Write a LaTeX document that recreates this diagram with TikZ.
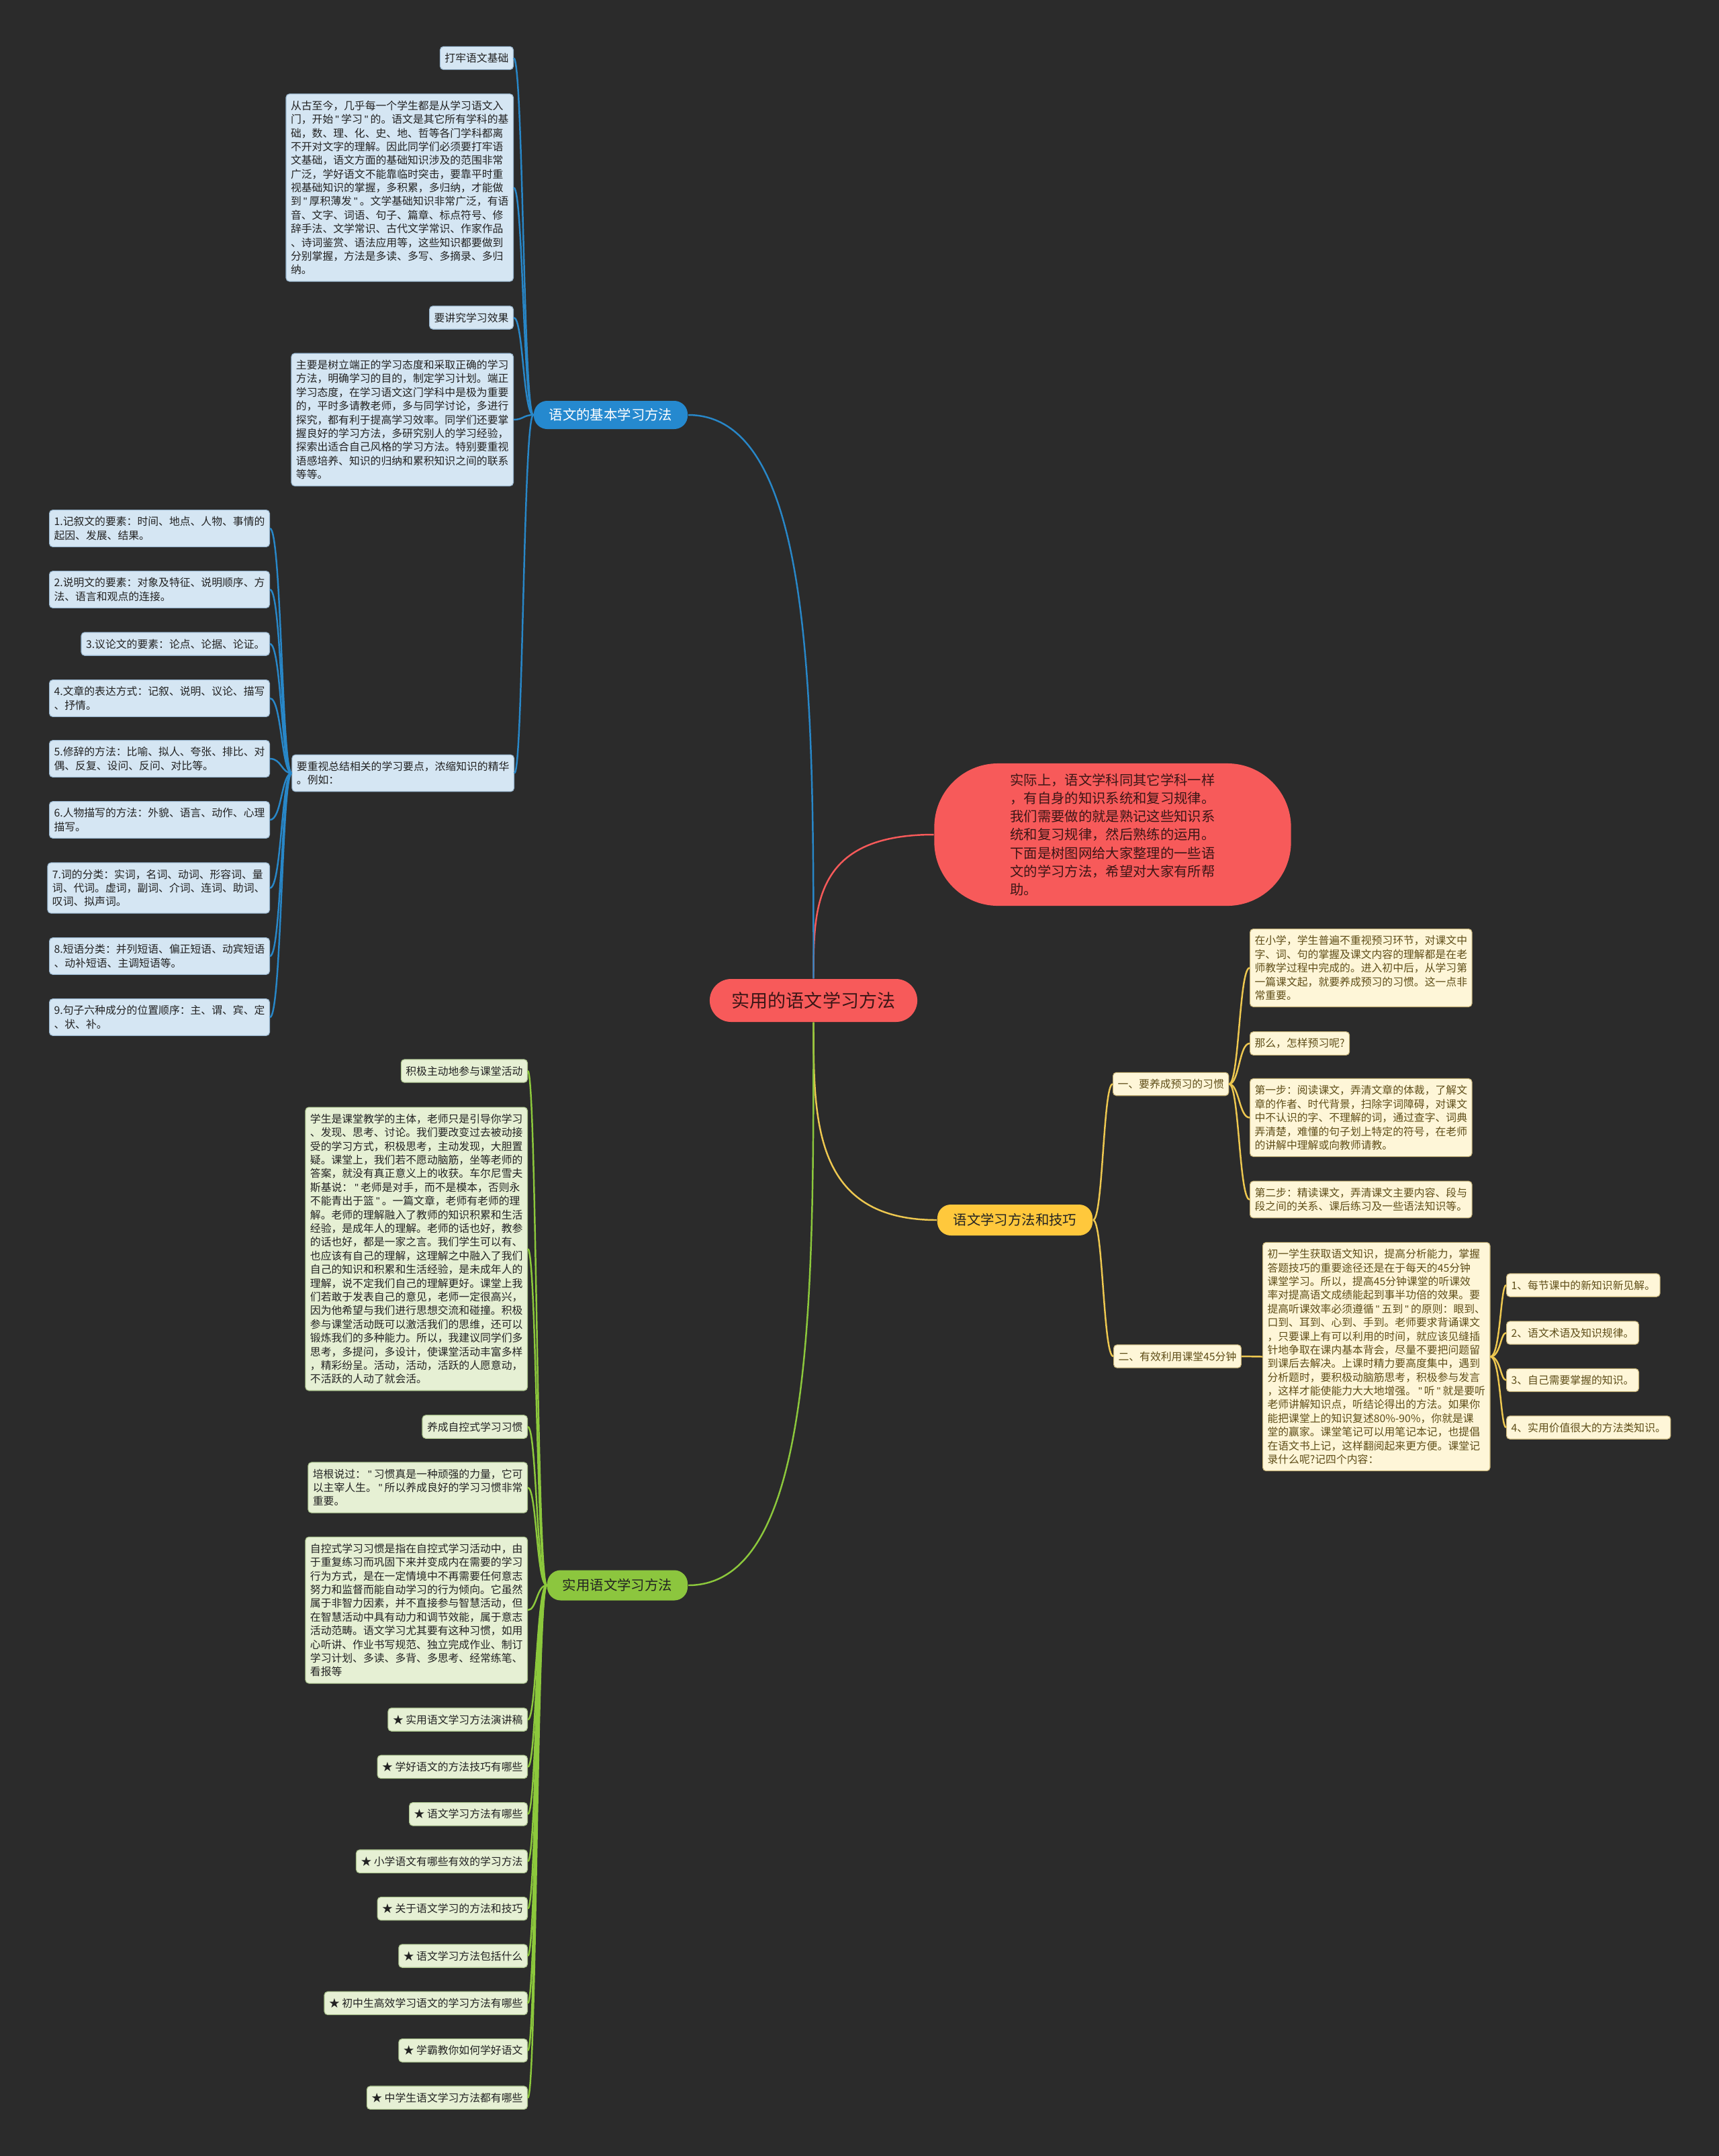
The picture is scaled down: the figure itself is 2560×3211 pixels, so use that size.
\documentclass[tikz,border=0pt]{standalone}
\usepackage{fontspec}
\setmainfont{Noto Sans CJK SC}
\newfontfamily\latin{Liberation Sans}
\usetikzlibrary{calc}

\definecolor{bg}{RGB}{43,43,43}
\definecolor{rootred}{RGB}{247,90,90}
\definecolor{redtxt}{RGB}{60,22,22}
\definecolor{bluepill}{RGB}{37,137,207}
\definecolor{blueln}{RGB}{40,135,200}
\definecolor{bluefill}{RGB}{213,230,243}
\definecolor{bluebd}{RGB}{150,180,205}
\definecolor{yelpill}{RGB}{255,200,60}
\definecolor{yelln}{RGB}{238,200,80}
\definecolor{yelfill}{RGB}{254,246,216}
\definecolor{yelbd}{RGB}{200,180,120}
\definecolor{yeltxt}{RGB}{95,78,25}
\definecolor{grnpill}{RGB}{140,198,62}
\definecolor{grnln}{RGB}{140,200,60}
\definecolor{grnfill}{RGB}{230,240,212}
\definecolor{grnbd}{RGB}{170,195,140}
\definecolor{txtdark}{RGB}{34,34,34}

\newcommand{\dq}{\makebox[0.75em][c]{\latin"}}

\tikzset{
  box/.style={rounded corners=0.05cm, align=left, inner xsep=2pt, inner ysep=2.8pt,
    line width=0.3pt, font=\fontsize{4.5pt}{5.8pt}\selectfont},
  bluebox/.style={box, draw=bluebd, fill=bluefill, text=txtdark},
  yelbox/.style={box, draw=yelbd, fill=yelfill, text=yeltxt},
  grnbox/.style={box, draw=grnbd, fill=grnfill, text=txtdark},
  pill/.style={rounded corners=0.2cm, inner sep=0pt, font=\fontsize{5.8pt}{7pt}\selectfont},
  bline/.style={draw=blueln, line width=0.7pt},
  yline/.style={draw=yelln, line width=0.7pt},
  gline/.style={draw=grnln, line width=0.7pt},
  rline/.style={draw=rootred, line width=0.7pt}
}

% child on the left of its parent
\newcommand{\linkleft}[3]{%
  \path ([xshift=-0.15cm]#1.west) coordinate (k);
  \draw[#3] (#1.west) .. controls (k) and (k |- #2.east) .. (#2.east);}
% child on the right of its parent
\newcommand{\linkright}[3]{%
  \path ([xshift=0.15cm]#1.east) coordinate (k);
  \draw[#3] (#1.east) .. controls (k) and (k |- #2.west) .. (#2.west);}
% main branches out of the root
\newcommand{\rootlink}[3]{%
  \path (#1 |- #2) coordinate (m);
  \draw[#3] (#1) .. controls ($(#1)!0.5!(m)$) and (m) .. (#2);}

\begin{document}
\begin{tikzpicture}[x=0.01cm, y=-0.01cm]
  \fill[bg] (0,0) rectangle (2560,3211);
  \useasboundingbox (0,0) rectangle (2560,3211);

  % centre
  \node[pill, fill=rootred, text=redtxt, rounded corners=0.32cm, minimum width=3.09cm,
    minimum height=0.64cm, font=\fontsize{7.7pt}{9pt}\selectfont] (root) at (1211.5,1490) {实用的语文学习方法};
  \node[fill=rootred, text=redtxt, rounded corners=0.95cm, minimum width=5.31cm, minimum height=2.12cm,
    align=left, font=\fontsize{5.78pt}{7.74pt}\selectfont] (intro) at (1657,1243) {实际上，语文学科同其它学科一样\\，有自身的知识系统和复习规律。\\我们需要做的就是熟记这些知识系\\统和复习规律，然后熟练的运用。\\下面是树图网给大家整理的一些语\\文的学习方法，希望对大家有所帮\\助。};

  \node[pill, fill=bluepill, text=white, minimum width=2.29cm, minimum height=0.42cm] (jiben) at (909.5,618) {语文的基本学习方法};
  \node[pill, fill=yelpill, text=txtdark, minimum width=2.31cm, minimum height=0.46cm] (jiqiao) at (1511.5,1817) {语文学习方法和技巧};
  \node[pill, fill=grnpill, text=txtdark, minimum width=2.09cm, minimum height=0.45cm] (shiyong) at (919.5,2361) {实用语文学习方法};

  \rootlink{root.north}{intro.west}{rline}
  \rootlink{root.north}{jiben.east}{bline}
  \rootlink{root.south}{jiqiao.west}{yline}
  \rootlink{root.south}{shiyong.east}{gline}

  % blue branch
  \node[bluebox, anchor=east] (b1) at (765,86.5) {打牢语文基础};
  \node[bluebox, anchor=east] (b2) at (765,279.5) {从古至今，几乎每一个学生都是从学习语文入\\门，开始\dq{}学习\dq{}的。语文是其它所有学科的基\\础，数、理、化、史、地、哲等各门学科都离\\不开对文字的理解。因此同学们必须要打牢语\\文基础，语文方面的基础知识涉及的范围非常\\广泛，学好语文不能靠临时突击，要靠平时重\\视基础知识的掌握，多积累，多归纳，才能做\\到\dq{}厚积薄发\dq{}。文学基础知识非常广泛，有语\\音、文字、词语、句子、篇章、标点符号、修\\辞手法、文学常识、古代文学常识、作家作品\\、诗词鉴赏、语法应用等，这些知识都要做到\\分别掌握，方法是多读、多写、多摘录、多归\\纳。};
  \node[bluebox, anchor=east] (b3) at (765,473) {要讲究学习效果};
  \node[bluebox, anchor=east] (b4) at (765,625) {主要是树立端正的学习态度和采取正确的学习\\方法，明确学习的目的，制定学习计划。端正\\学习态度，在学习语文这门学科中是极为重要\\的，平时多请教老师，多与同学讨论，多进行\\探究，都有利于提高学习效率。同学们还要掌\\握良好的学习方法，多研究别人的学习经验，\\探索出适合自己风格的学习方法。特别要重视\\语感培养、知识的归纳和累积知识之间的联系\\等等。};
  \node[bluebox, anchor=east] (b5) at (766,1151.5) {要重视总结相关的学习要点，浓缩知识的精华\\。例如：};
  \foreach \i in {1,...,5}
    {\linkleft{jiben}{b\i}{bline}}

  \foreach \y/\t [count=\i] in {
      787/{1.记叙文的要素：时间、地点、人物、事情的\\起因、发展、结果。},
      878/{2.说明文的要素：对象及特征、说明顺序、方\\法、语言和观点的连接。},
      959/{3.议论文的要素：论点、论据、论证。},
      1040/{4.文章的表达方式：记叙、说明、议论、描写\\、抒情。},
      1130/{5.修辞的方法：比喻、拟人、夸张、排比、对\\偶、反复、设问、反问、对比等。},
      1221/{6.人物描写的方法：外貌、语言、动作、心理\\描写。},
      1322.5/{7.词的分类：实词，名词、动词、形容词、量\\词、代词。虚词，副词、介词、连词、助词、\\叹词、拟声词。},
      1424/{8.短语分类：并列短语、偏正短语、动宾短语\\、动补短语、主调短语等。},
      1515/{9.句子六种成分的位置顺序：主、谓、宾、定\\、状、补。}}
    \node[bluebox, anchor=east] (l\i) at (402,\y) {\t};
  \foreach \i in {1,...,9}
    {\linkleft{b5}{l\i}{bline}}

  % yellow branch
  \node[yelbox, anchor=west] (y1) at (1657,1614.5) {一、要养成预习的习惯};
  \node[yelbox, anchor=west] (y2) at (1658,2020) {二、有效利用课堂45分钟};
  \linkright{jiqiao}{y1}{yline}
  \linkright{jiqiao}{y2}{yline}

  \node[yelbox, anchor=west] (c1) at (1861,1441.5) {在小学，学生普遍不重视预习环节，对课文中\\字、词、句的掌握及课文内容的理解都是在老\\师教学过程中完成的。进入初中后，从学习第\\一篇课文起，就要养成预习的习惯。这一点非\\常重要。};
  \node[yelbox, anchor=west] (c2) at (1861,1554) {那么，怎样预习呢?};
  \node[yelbox, anchor=west] (c3) at (1861,1664.5) {第一步：阅读课文，弄清文章的体裁，了解文\\章的作者、时代背景，扫除字词障碍，对课文\\中不认识的字、不理解的词，通过查字、词典\\弄清楚，难懂的句子划上特定的符号，在老师\\的讲解中理解或向教师请教。};
  \node[yelbox, anchor=west] (c4) at (1861,1786.5) {第二步：精读课文，弄清课文主要内容、段与\\段之间的关系、课后练习及一些语法知识等。};
  \foreach \i in {1,...,4}
    {\linkright{y1}{c\i}{yline}}

  \node[yelbox, anchor=west] (c5) at (1880,2020.5) {初一学生获取语文知识，提高分析能力，掌握\\答题技巧的重要途径还是在于每天的45分钟\\课堂学习。所以，提高45分钟课堂的听课效\\率对提高语文成绩能起到事半功倍的效果。要\\提高听课效率必须遵循\dq{}五到\dq{}的原则：眼到、\\口到、耳到、心到、手到。老师要求背诵课文\\，只要课上有可以利用的时间，就应该见缝插\\针地争取在课内基本背会，尽量不要把问题留\\到课后去解决。上课时精力要高度集中，遇到\\分析题时，要积极动脑筋思考，积极参与发言\\，这样才能使能力大大地增强。\dq{}听\dq{}就是要听\\老师讲解知识点，听结论得出的方法。如果你\\能把课堂上的知识复述80\%-90\%，你就是课\\堂的赢家。课堂笔记可以用笔记本记，也提倡\\在语文书上记，这样翻阅起来更方便。课堂记\\录什么呢?记四个内容：};
  \linkright{y2}{c5}{yline}

  \foreach \y/\t [count=\i] in {1914/1、每节课中的新知识新见解。, 1985/2、语文术语及知识规律。,
      2055.5/3、自己需要掌握的知识。, 2126/4、实用价值很大的方法类知识。}
    \node[yelbox, anchor=west] (d\i) at (2243,\y) {\t};
  \foreach \i in {1,...,4}
    {\linkright{c5}{d\i}{yline}}

  % green branch
  \node[grnbox, anchor=east] (g1) at (786,1595) {积极主动地参与课堂活动};
  \node[grnbox, anchor=east] (g2) at (786,1860) {学生是课堂教学的主体，老师只是引导你学习\\、发现、思考、讨论。我们要改变过去被动接\\受的学习方式，积极思考，主动发现，大胆置\\疑。课堂上，我们若不愿动脑筋，坐等老师的\\答案，就没有真正意义上的收获。车尔尼雪夫\\斯基说：\dq{}老师是对手，而不是模本，否则永\\不能青出于篮\dq{}。一篇文章，老师有老师的理\\解。老师的理解融入了教师的知识积累和生活\\经验，是成年人的理解。老师的话也好，教参\\的话也好，都是一家之言。我们学生可以有、\\也应该有自己的理解，这理解之中融入了我们\\自己的知识和积累和生活经验，是未成年人的\\理解，说不定我们自己的理解更好。课堂上我\\们若敢于发表自己的意见，老师一定很高兴，\\因为他希望与我们进行思想交流和碰撞。积极\\参与课堂活动既可以激活我们的思维，还可以\\锻炼我们的多种能力。所以，我建议同学们多\\思考，多提问，多设计，使课堂活动丰富多样\\，精彩纷呈。活动，活动，活跃的人愿意动，\\不活跃的人动了就会活。};
  \node[grnbox, anchor=east] (g3) at (786,2125) {养成自控式学习习惯};
  \node[grnbox, anchor=east] (g4) at (786,2215.5) {培根说过：\dq{}习惯真是一种顽强的力量，它可\\以主宰人生。\dq{}所以养成良好的学习习惯非常\\重要。};
  \node[grnbox, anchor=east] (g5) at (786,2398) {自控式学习习惯是指在自控式学习活动中，由\\于重复练习而巩固下来并变成内在需要的学习\\行为方式，是在一定情境中不再需要任何意志\\努力和监督而能自动学习的行为倾向。它虽然\\属于非智力因素，并不直接参与智慧活动，但\\在智慧活动中具有动力和调节效能，属于意志\\活动范畴。语文学习尤其要有这种习惯，如用\\心听讲、作业书写规范、独立完成作业、制订\\学习计划、多读、多背、多思考、经常练笔、\\看报等};
  \foreach \i in {1,...,5}
    {\linkleft{shiyong}{g\i}{gline}}

  \foreach \t [count=\i] in {实用语文学习方法演讲稿, 学好语文的方法技巧有哪些, 语文学习方法有哪些,
      小学语文有哪些有效的学习方法, 关于语文学习的方法和技巧, 语文学习方法包括什么,
      初中生高效学习语文的学习方法有哪些, 学霸教你如何学好语文, 中学生语文学习方法都有哪些}
    \node[grnbox, anchor=east] (s\i) at (786,{2561+(\i-1)*70.4}) {★ \t};
  \foreach \i in {1,...,9}
    {\linkleft{shiyong}{s\i}{gline}}
\end{tikzpicture}
\end{document}
